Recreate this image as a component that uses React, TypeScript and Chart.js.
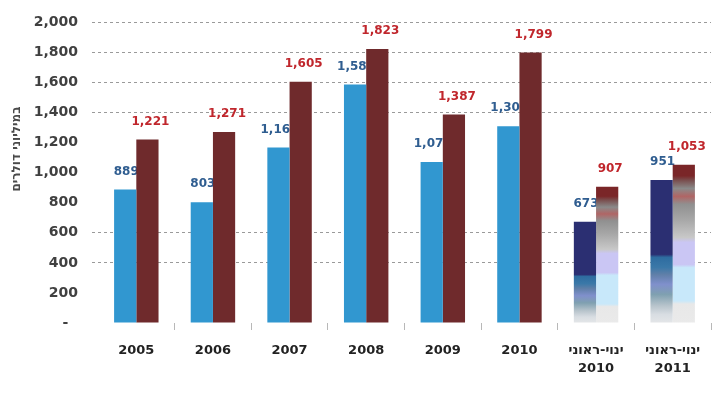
import React, { useEffect, useRef } from 'react';
import { Chart, registerables } from 'chart.js';

Chart.register(...registerables);

const LRO = '\u202D';
const PDF = '\u202C';
const categories: (string | string[])[] = [
  '2005', '2006', '2007', '2008', '2009', '2010',
  [LRO + 'ינואר-יוני' + PDF, '2010'],
  [LRO + 'ינואר-יוני' + PDF, '2011'],
];
const seriesBlue = [889, 803, 1168, 1586, 1071, 1309, 673, 951];
const seriesRed = [1221, 1271, 1605, 1823, 1387, 1799, 907, 1053];
const yMin = 0;
const yMax = 2000;
const yStep = 200;
const visibleGridValues = [400, 600, 1400, 1600, 1800, 2000];
const yTitle = 'במיליוני דולרים';
const partialYearStart = 6; // categories from this index are drawn with shaded fill

const BLUE = '#3197d0';
const RED = '#6f2a2c';
const BLUE_LABEL = '#2f5d90';
const RED_LABEL = '#c0262c';

const blueStops: [number, string][] = [
  [0, '#2b2f72'], [0.52, '#2b2f72'], [0.54, '#2e6ca0'], [0.61, '#3a78a8'],
  [0.66, '#5f7fa8'], [0.73, '#8090cc'], [0.8, '#7fa0b0'], [0.88, '#b8c4cc'],
  [0.94, '#d8dde2'], [1, '#e4e6e8'],
];
const redStops: [number, string][] = [
  [0, '#7a2628'], [0.07, '#7a2628'], [0.1, '#7a5050'], [0.15, '#8a8a8a'],
  [0.2, '#b06565'], [0.25, '#909090'], [0.35, '#a8a8a8'], [0.46, '#c8c8c8'],
  [0.49, '#cac6f4'], [0.63, '#cac6f4'], [0.65, '#c8e8fa'], [0.86, '#c8e8fa'],
  [0.88, '#e8e8e8'], [1, '#eaeaea'],
];

const fmt = (v: number) => v.toLocaleString('en-US');

function barFill(solid: string, stops: [number, string][]) {
  return (ctx: any) => {
    if (ctx.dataIndex === undefined || ctx.dataIndex < partialYearStart) return solid;
    const chart = ctx.chart;
    const y = chart.scales && chart.scales.y;
    if (!y || !chart.chartArea) return solid;
    const v = ctx.dataset.data[ctx.dataIndex];
    const top = y.getPixelForValue(v);
    const bottom = y.getPixelForValue(0);
    const g = chart.ctx.createLinearGradient(0, top, 0, bottom);
    stops.forEach(([o, c]) => g.addColorStop(o, c));
    return g;
  };
}

function drawLabels(chart: any, index: number, color: string, dx: number) {
  const meta = chart.getDatasetMeta(index);
  const ds = chart.data.datasets[index];
  const ctx = chart.ctx;
  ctx.save();
  ctx.font = 'bold 12px "DejaVu Sans"';
  ctx.fillStyle = color;
  ctx.textAlign = 'center';
  ctx.textBaseline = 'middle';
  meta.data.forEach((bar: any, i: number) => {
    ctx.fillText(fmt(ds.data[i]), bar.x + dx, bar.y - 18);
  });
  ctx.restore();
}

const labelPlugin = {
  id: 'valueLabels',
  beforeDatasetsDraw(chart: any) {
    drawLabels(chart, 0, BLUE_LABEL, 1);
  },
  afterDatasetsDraw(chart: any) {
    drawLabels(chart, 1, RED_LABEL, 3);
  },
  afterDraw(chart: any) {
    const ctx = chart.ctx;
    ctx.save();
    ctx.font = 'bold 12px "DejaVu Sans"';
    ctx.fillStyle = '#4a4a4a';
    ctx.textAlign = 'center';
    ctx.textBaseline = 'middle';
    ctx.translate(17, 149);
    ctx.rotate(-Math.PI / 2);
    ctx.fillText(yTitle, 0, 0);
    ctx.restore();
  },
};

export default function App() {
  const ref = useRef<HTMLCanvasElement>(null);
  useEffect(() => {
    if (!ref.current) return;
    const gridCol = (c: any) => (c.tick && visibleGridValues.includes(c.tick.value) ? '#9a9a9a' : 'rgba(0,0,0,0)');
    const chart = new Chart(ref.current, {
      type: 'bar',
      data: {
        labels: categories,
        datasets: [
          {
            label: 'blue',
            data: seriesBlue,
            backgroundColor: barFill(BLUE, blueStops),
            categoryPercentage: 0.58,
            barPercentage: 1,
          },
          {
            label: 'red',
            data: seriesRed,
            backgroundColor: barFill(RED, redStops),
            categoryPercentage: 0.58,
            barPercentage: 1,
          },
        ],
      },
      options: {
        responsive: false,
        animation: false,
        devicePixelRatio: 1,
        layout: { padding: { top: 17, right: 17, left: 0, bottom: 0 } },
        plugins: {
          legend: { display: false },
          tooltip: { enabled: false },
        },
        scales: {
          x: {
            border: { display: false },
            grid: {
              offset: true,
              drawOnChartArea: false,
              drawTicks: true,
              tickLength: 7,
              color: (c: any) => (c.index === 0 || c.index >= categories.length ? 'rgba(0,0,0,0)' : '#b8b8b8'),
            },
            ticks: {
              color: '#222',
              font: { family: '"DejaVu Sans"', size: 13, weight: 'bold', lineHeight: 1.38 },
              padding: 12,
              maxRotation: 0,
              autoSkip: false,
            },
            afterFit: (s: any) => { s.height = 73; },
          },
          y: {
            min: yMin,
            max: yMax,
            border: { display: false, dash: [3, 3] },
            grid: {
              color: gridCol,
              tickColor: gridCol,
              lineWidth: 1,
              tickBorderDash: [3, 3],
              drawTicks: true,
              tickLength: 6,
            },
            ticks: {
              stepSize: yStep,
              color: '#404040',
              font: { family: '"DejaVu Sans"', size: 14, weight: 'bold' },
              padding: 14,
              callback: (v: any) => (Number(v) === 0 ? '-  ' : fmt(Number(v))),
            },
            afterFit: (s: any) => { s.width = 98; },
          },
        },
      },
      plugins: [labelPlugin],
    } as any);
    return () => chart.destroy();
  }, []);
  return (
    <div style={{ position: 'fixed', left: 0, top: 0, width: 728, height: 396, background: '#fff' }}>
      <canvas ref={ref} width={728} height={396} />
    </div>
  );
}
